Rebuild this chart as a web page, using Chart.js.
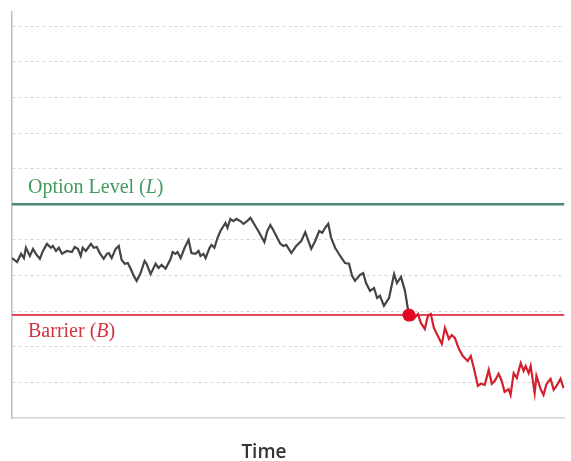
<!DOCTYPE html>
<html>
<head>
<meta charset="utf-8">
<script src="https://cdn.jsdelivr.net/npm/chart.js@4"></script>
<style>
  body { margin: 0; background: #fff; }
  canvas { display: block; }
</style>
</head>
<body>
<canvas id="chart" width="571" height="461" style="width:571px;height:461px"></canvas>
<script>
// price path before the barrier is hit (time in trading days)
const pathTime = [0, 2.3, 4.1, 5.4, 6.3, 8.1, 9.5, 10.8, 12.6, 14.0, 15.8, 17.6, 18.5, 19.9, 21.2, 22.6, 24.8, 27.1, 28.4, 29.8,
    31.1, 32.0, 33.4, 35.7, 37.0, 38.4, 39.7, 41.5, 42.9, 43.8, 45.1, 46.9, 48.3, 49.6, 51.0, 52.4, 53.7, 55.1, 56.4, 58.2,
    60.0, 60.9, 62.7, 65.0, 66.3, 67.7, 69.5, 71.8, 72.7, 74.0, 74.9, 76.3, 78.1, 79.9, 81.2, 83.0, 84.4, 85.3, 86.6, 87.6,
    89.4, 90.3, 91.6, 93.0, 94.3, 96.6, 97.5, 98.8, 100.2, 101.5, 103.3, 104.7, 106.1, 107.9, 110.1, 111.9, 114.2, 115.5, 116.9, 118.2,
    119.6, 121.4, 122.8, 124.1, 126.4, 128.6, 130.9, 132.7, 135.4, 137.2, 139.0, 140.4, 141.7, 143.1, 144.4, 146.2, 148.5, 150.7, 152.5, 153.9,
    155.2, 157.5, 158.9, 160.2, 162.0, 163.8, 165.2, 166.5, 168.3, 170.6, 172.9, 174.2, 176.0, 177.8, 179.6];
const pathPrice = [44.9, 43.8, 46.1, 44.9, 47.8, 45.5, 47.5, 46.1, 44.7, 46.9, 48.9, 47.8, 48.3, 46.9, 47.8, 46.1, 46.9, 46.6, 48.0, 47.5,
    45.5, 47.8, 46.9, 48.9, 47.8, 48.0, 46.3, 44.7, 46.1, 46.3, 44.9, 47.5, 48.3, 44.4, 43.3, 43.5, 41.9, 39.9, 38.5, 40.7,
    44.1, 43.3, 40.4, 43.3, 42.1, 43.0, 41.9, 44.7, 46.6, 46.1, 46.6, 44.9, 47.8, 50.0, 46.3, 46.1, 46.9, 45.5, 46.1, 44.9,
    47.8, 48.6, 47.8, 50.6, 52.5, 54.8, 53.4, 55.9, 55.3, 55.9, 55.3, 54.5, 55.1, 56.2, 53.9, 52.0, 49.4, 52.5, 54.2, 52.8,
    51.1, 48.9, 48.3, 48.6, 46.3, 48.3, 49.7, 52.2, 47.5, 49.7, 52.5, 52.0, 53.4, 54.5, 50.6, 47.8, 45.5, 43.5, 43.3, 39.9,
    38.5, 40.2, 40.7, 37.9, 35.7, 36.5, 33.7, 34.3, 31.5, 33.7, 40.4, 37.9, 39.6, 35.7, 28.9];

// price path after the barrier is hit
const knockedTime = [179.6, 181.5, 183.7, 185.0, 186.8, 188.2, 189.5, 190.9, 192.7, 194.5, 195.9, 197.7, 199.0, 200.4, 202.2, 204.0, 206.2,
    207.6, 209.0, 210.8, 212.1, 213.9, 215.7, 217.1, 218.4, 220.2, 221.6, 222.9, 224.7, 225.6, 227.0, 228.4, 230.2,
    231.5, 232.4, 233.8, 234.7, 236.5, 237.3, 239.2, 240.5, 241.9, 243.7, 245.1, 246.4, 248.2, 249.6];
const knockedPrice = [28.9, 27.6, 29.2, 26.7, 25.0, 28.7, 29.2, 25.3, 23.0, 20.8, 25.3, 22.2, 23.3, 22.5, 19.4, 17.4, 16.0,
    17.4, 14.0, 9.0, 9.6, 9.3, 13.5, 9.6, 10.4, 12.4, 10.4, 7.3, 8.1, 6.5, 12.6, 11.2, 15.4,
    13.2, 14.6, 12.6, 14.6, 7.0, 11.8, 8.1, 6.5, 9.6, 11.0, 7.9, 9.0, 11.0, 8.4];

const OPTION_LEVEL = 60;
const BARRIER = 28.9;
const HIT_TIME = 179.6;
const T_MAX = 250;
const Y_MAX = 114;

function toPoints(ts, vs) {
    return ts.map((t, i) => ({ x: t, y: vs[i] }));
}

// labels over the level lines and the axis title
const annotations = {
    id: 'annotations',
    afterDatasetsDraw(chart) {
        const { ctx, chartArea, scales } = chart;
        const left = chartArea.left + 16;

        function mixed(parts, x, y, color) {
            ctx.fillStyle = color;
            ctx.textBaseline = 'alphabetic';
            ctx.textAlign = 'left';
            parts.forEach(([text, italic]) => {
                ctx.font = (italic ? 'italic ' : '') + '20px "Liberation Serif", serif';
                ctx.fillText(text, x, y);
                x += ctx.measureText(text).width;
            });
        }

        ctx.save();
        mixed([['Option Level (', false], ['L', true], [')', false]],
            left, scales.y.getPixelForValue(OPTION_LEVEL) - 11, '#3f9a5c');
        mixed([['Barrier (', false], ['B', true], [')', false]],
            left, scales.y.getPixelForValue(BARRIER) + 22, '#cf3541');

        ctx.font = '600 19px "Open Sans", sans-serif';
        ctx.fillStyle = '#333';
        ctx.textAlign = 'center';
        ctx.fillText('Time', chartArea.left + (chartArea.right - chartArea.left) * 0.456, chartArea.bottom + 40);
        ctx.restore();
    }
};

new Chart(document.getElementById('chart'), {
    type: 'line',
    data: {
        datasets: [
            {
                type: 'scatter',
                data: [{ x: HIT_TIME, y: BARRIER }],
                pointRadius: 6.5,
                pointBackgroundColor: '#e3071f',
                pointBorderWidth: 0
            },
            {
                data: toPoints(pathTime, pathPrice),
                borderColor: '#444',
                borderWidth: 2.2,
                pointRadius: 0
            },
            {
                data: toPoints(knockedTime, knockedPrice),
                borderColor: '#d3202e',
                borderWidth: 2.2,
                pointRadius: 0
            },
            {
                data: [{ x: 0, y: OPTION_LEVEL }, { x: T_MAX, y: OPTION_LEVEL }],
                borderColor: '#4b8d70',
                borderWidth: 2.5,
                pointRadius: 0
            },
            {
                data: [{ x: 0, y: BARRIER }, { x: T_MAX, y: BARRIER }],
                borderColor: '#e2475a',
                borderWidth: 2,
                pointRadius: 0
            }
        ]
    },
    options: {
        responsive: false,
        animation: false,
        layout: { padding: { left: 12, top: 12, right: 4, bottom: 35 } },
        plugins: {
            legend: { display: false },
            tooltip: { enabled: false }
        },
        scales: {
            x: {
                type: 'linear',
                min: 0,
                max: T_MAX,
                ticks: { display: false },
                grid: { display: false },
                border: { display: true, color: '#d4d4d4', width: 1.5 }
            },
            y: {
                min: 0,
                max: Y_MAX,
                afterBuildTicks: scale => {
                    scale.ticks = scale.ticks.filter(t => t.value % 10 === 0);
                },
                ticks: { display: false, stepSize: 10 },
                grid: {
                    drawTicks: false,
                    color: c => c.tick && c.tick.value > 0 ? '#d6d6d6' : 'transparent',
                    lineWidth: 1
                },
                border: { display: true, color: '#bdbdbd', width: 1.5, dash: [3, 3] }
            }
        }
    },
    plugins: [annotations]
});
</script>
</body>
</html>
